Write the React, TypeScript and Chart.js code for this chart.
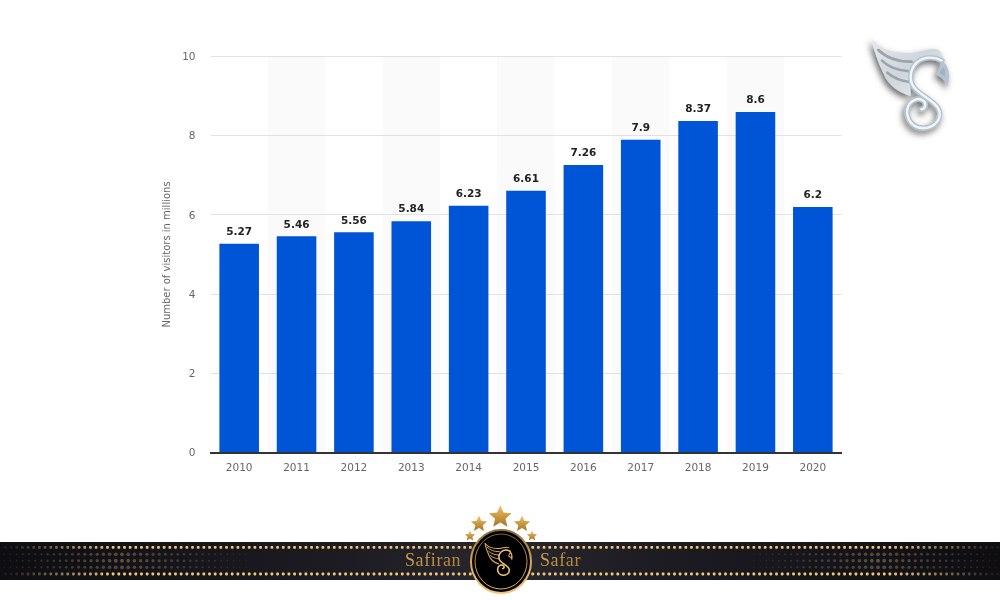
import React, { useEffect, useRef } from "react";
import { Chart, registerables } from "chart.js";

Chart.register(...registerables);

const years = ["2010", "2011", "2012", "2013", "2014", "2015", "2016", "2017", "2018", "2019", "2020"];
const visitors = [5.27, 5.46, 5.56, 5.84, 6.23, 6.61, 7.26, 7.9, 8.37, 8.6, 6.2];
const yTicks = [0, 2, 4, 6, 8, 10];
const axisTitle = "Number of visitors in millions";
const brandLeft = "Safiran";
const brandRight = "Safar";

const bandsPlugin = {
  id: "bands",
  beforeDraw(chart: any) {
    const { ctx, chartArea, scales } = chart;
    const step = scales.x.getPixelForValue(1) - scales.x.getPixelForValue(0);
    ctx.save();
    ctx.fillStyle = "#fafafa";
    years.forEach((_, i) => {
      if (i % 2 === 1) {
        const c = scales.x.getPixelForValue(i);
        ctx.fillRect(c - step / 2, chartArea.top, step, chartArea.bottom - chartArea.top);
      }
    });
    ctx.restore();
  },
};

const valueLabelsPlugin = {
  id: "valueLabels",
  afterDatasetsDraw(chart: any) {
    const { ctx } = chart;
    const meta = chart.getDatasetMeta(0);
    ctx.save();
    ctx.font = "bold 10.5px 'DejaVu Sans'";
    ctx.fillStyle = "#222";
    ctx.textAlign = "center";
    ctx.textBaseline = "middle";
    meta.data.forEach((bar: any, i: number) => {
      ctx.fillText(String(visitors[i]), bar.x, bar.y - 11.5);
    });
    ctx.restore();
  },
};

function star(cx: number, cy: number, r: number) {
  const pts: string[] = [];
  for (let i = 0; i < 10; i++) {
    const a = -Math.PI / 2 + (i * Math.PI) / 5;
    const rad = i % 2 === 0 ? r : r * 0.46;
    pts.push(`${(cx + rad * Math.cos(a)).toFixed(1)},${(cy + rad * Math.sin(a)).toFixed(1)}`);
  }
  return pts.join(" ");
}

function railDots() {
  const out: React.ReactElement[] = [];
  for (let x = 4; x < 1000; x += 5.67) {
    const edge = Math.min(x, 1000 - x);
    const op = Math.min(1, Math.max(0.08, edge / 110));
    [546, 572.6].forEach((y) => {
      out.push(<rect key={`r${x}-${y}`} x={x} y={y} width={2.8} height={2.8} rx={0.8} fill="#f3c679" opacity={op} />);
    });
  }
  return out;
}

function fieldDots() {
  const out: React.ReactElement[] = [];
  const rows = [554.3, 560.7, 567.3];
  rows.forEach((y, ri) => {
    for (let dx = 0; dx <= 125; dx += 6.2) {
      [1, -1].forEach((side) => {
        const x = 122 + side * dx;
        const t = 1 - dx / 125;
        const strength = ri === 1 ? t : t * 0.85;
        [x, 1000 - x].forEach((px, k) => {
          if (side === -1 && dx === 0) return;
          out.push(
            <circle key={`f${ri}-${dx}-${side}-${k}`} cx={px} cy={y} r={0.7 + 1.2 * t} fill="#7d684c" opacity={0.2 + 0.55 * strength} />
          );
        });
      });
    }
  });
  return out;
}

function Emblem({ wing, stripe, outer, inner, eye, sw }: { wing: string; stripe: string; outer: string; inner: string; eye: string; sw: number }) {
  const sCurve =
    "M246,92 C222,78 190,80 170,98 C150,118 146,150 162,172 C182,198 228,212 238,242 C246,274 216,296 186,294 C156,292 138,266 142,238 C146,212 176,198 192,214 C200,224 194,238 184,238";
  return (
    <g>
      <path
        d="M35,25 C60,60 110,72 160,68 C190,64 220,50 238,62 C248,70 250,85 248,95 C230,85 205,80 185,85 C165,90 155,105 150,125 L152,198 C120,190 85,170 70,130 C55,100 40,60 35,25 Z"
        fill={wing}
      />
      <g fill="none" stroke={stripe} strokeWidth={8} strokeLinecap="round">
        <path d="M55,60 C80,84 112,96 155,95" />
        <path d="M66,92 C86,112 115,122 150,124" />
        <path d="M82,128 C100,144 122,152 150,156" />
      </g>
      <path d={sCurve} fill="none" stroke={outer} strokeWidth={sw} strokeLinecap="round" />
      <path d={sCurve} fill="none" stroke={inner} strokeWidth={sw * 0.45} strokeLinecap="round" />
      <path d="M245,92 C264,102 274,132 262,170 C256,150 242,140 228,134 C236,120 240,106 245,92 Z" fill={outer} />
      <path d="M238,128 C244,116 250,112 252,112 C256,122 256,130 254,140 C248,135 244,132 238,128 Z" fill={eye} />
    </g>
  );
}

function Decorations() {
  return (
    <svg width={1000} height={600} style={{ position: "absolute", left: 0, top: 0, pointerEvents: "none" }}>
      <defs>
        <linearGradient id="gold" x1="0" y1="0" x2="0" y2="1">
          <stop offset="0" stopColor="#efc873" />
          <stop offset="0.55" stopColor="#c8963c" />
          <stop offset="1" stopColor="#a8782c" />
        </linearGradient>
        <linearGradient id="ring" x1="0" y1="0" x2="0" y2="1">
          <stop offset="0" stopColor="#8d6a2e" />
          <stop offset="0.5" stopColor="#d6a95c" />
          <stop offset="1" stopColor="#f0c67a" />
        </linearGradient>
        <linearGradient id="bannerBg" x1="0" y1="0" x2="1" y2="0">
          <stop offset="0" stopColor="#0d0d12" />
          <stop offset="0.35" stopColor="#1c1c22" />
          <stop offset="0.5" stopColor="#27272d" />
          <stop offset="0.65" stopColor="#1c1c22" />
          <stop offset="1" stopColor="#0d0d12" />
        </linearGradient>
        <linearGradient id="textGold" x1="0" y1="0" x2="1" y2="1">
          <stop offset="0" stopColor="#d9a858" />
          <stop offset="1" stopColor="#a87a30" />
        </linearGradient>
        <linearGradient id="silver" x1="0" y1="0" x2="1" y2="1">
          <stop offset="0" stopColor="#e6eaee" />
          <stop offset="0.5" stopColor="#ced5dc" />
          <stop offset="1" stopColor="#eef1f4" />
        </linearGradient>
        <filter id="shadow" x="-30%" y="-30%" width="170%" height="170%">
          <feDropShadow dx="-6" dy="10" stdDeviation="10" floodColor="#444" floodOpacity="0.8" />
        </filter>
      </defs>

      <rect x="0" y="542" width="1000" height="38" fill="url(#bannerBg)" />
      {fieldDots()}
      {railDots()}

      <text x="405" y="566" fontFamily="'Liberation Serif'" fontSize="18" fill="url(#textGold)" letterSpacing="0.6">{brandLeft}</text>
      <text x="540" y="566" fontFamily="'Liberation Serif'" fontSize="18" fill="url(#textGold)" letterSpacing="0.6">{brandRight}</text>

      <polygon points={star(500.3, 517, 12)} fill="url(#gold)" />
      <polygon points={star(479, 524, 8.5)} fill="url(#gold)" />
      <polygon points={star(522, 524, 8.5)} fill="url(#gold)" />
      <polygon points={star(470, 536, 5.5)} fill="url(#gold)" />
      <polygon points={star(532, 536, 5.5)} fill="url(#gold)" />

      <ellipse cx="501" cy="561.5" rx="30" ry="31.5" fill="#000" stroke="url(#ring)" strokeWidth="2" />
      <ellipse cx="501" cy="561.5" rx="26" ry="27.5" fill="none" stroke="url(#ring)" strokeWidth="0.9" />
      <g transform="translate(480.8,540.3) scale(0.119)">
        <Emblem wing="#000" stripe="#d9ac62" outer="#d9ac62" inner="#f4d08a" eye="#000" sw={13} />
        <g fill="none" stroke="#d9ac62" strokeWidth="9">
          <path d="M35,25 C60,60 110,72 160,68 C190,64 220,50 238,62" />
          <path d="M35,25 C40,60 55,100 70,130 C85,170 120,190 152,198" />
        </g>
      </g>

      <g transform="translate(860,30) scale(0.33333)" filter="url(#shadow)">
        <Emblem wing="url(#silver)" stripe="#9ea3a8" outer="#b4c3d0" inner="#f2f5f7" eye="#a3b1bd" sw={16} />
      </g>
    </svg>
  );
}

export default function App() {
  const ref = useRef<HTMLCanvasElement | null>(null);

  useEffect(() => {
    if (!ref.current) return;
    const chart = new Chart(ref.current, {
      type: "bar",
      data: {
        labels: years,
        datasets: [
          {
            data: visitors,
            backgroundColor: "#0055d6",
            categoryPercentage: 1,
            barPercentage: 0.69,
          },
        ],
      },
      plugins: [bandsPlugin, valueLabelsPlugin],
      options: {
        animation: false,
        responsive: false,
        layout: { padding: { left: 160.5, top: 56.5, right: 158.5, bottom: 99.5 } },
        plugins: { legend: { display: false }, tooltip: { enabled: false } },
        scales: {
          x: {
            grid: { display: false, drawTicks: false },
            border: { display: true, color: "#333", width: 2, z: 1 },
            ticks: {
              color: "#666",
              padding: 9,
              maxRotation: 0,
              font: { family: "'DejaVu Sans'", size: 10.5 },
            },
            afterFit(scale: any) {
              scale.height = 48;
            },
          },
          y: {
            min: 0,
            max: 10,
            afterBuildTicks(scale: any) {
              scale.ticks = yTicks.map((value) => ({ value }));
            },
            grid: {
              drawTicks: false,
              color: (c: any) => (c.tick.value === 0 ? "rgba(0,0,0,0)" : "#e2e2e2"),
              lineWidth: 1,
            },
            border: { display: false },
            ticks: {
              color: "#666",
              padding: 15,
              labelOffset: 1,
              font: { family: "'DejaVu Sans'", size: 10.5 },
            },
            title: {
              display: true,
              text: axisTitle,
              color: "#666",
              padding: { top: 1, bottom: 0 },
              font: { family: "'DejaVu Sans'", size: 10, weight: "normal" },
            },
            afterFit(scale: any) {
              scale.width = 50;
            },
          },
        },
      },
    } as any);
    return () => chart.destroy();
  }, []);

  return (
    <div style={{ position: "absolute", left: 0, top: 0, width: 1000, height: 600, background: "#fff", overflow: "hidden" }}>
      <canvas ref={ref} width={1000} height={600} style={{ display: "block", position: "absolute", left: 0, top: 0 }} />
      <Decorations />
    </div>
  );
}
